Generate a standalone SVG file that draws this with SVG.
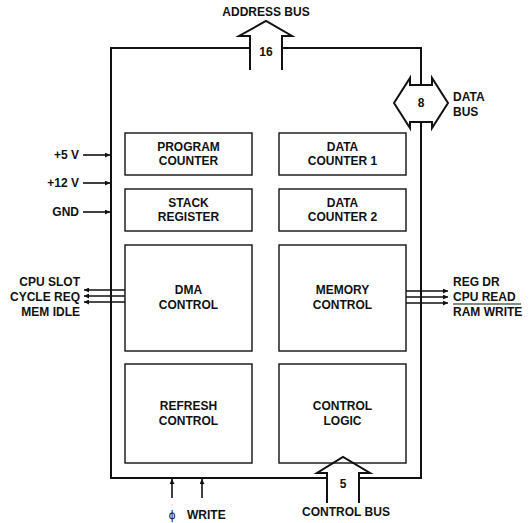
<svg xmlns="http://www.w3.org/2000/svg" width="531" height="523" viewBox="0 0 531 523">
<defs>
<style>
text{font-family:"Liberation Sans",Arial,sans-serif;font-weight:bold;font-size:12px;fill:#111}
.c{text-anchor:middle}
.r{text-anchor:end}
.box{fill:none;stroke:#111;stroke-width:1.4}
.bus{fill:none;stroke:#111;stroke-width:2;stroke-linejoin:miter}
.sig{fill:none;stroke:#111;stroke-width:1.6;marker-end:url(#ah)}
</style>
<marker id="ah" viewBox="0 0 10 10" refX="10" refY="5" markerWidth="7" markerHeight="5" markerUnits="userSpaceOnUse" orient="auto">
<path d="M0,0 L10,5 L0,10 Z" fill="#111"/>
</marker>
</defs>
<rect width="531" height="523" fill="#fff"/>

<g id="frame">
<path class="bus" d="M250,48 H111 V478 H327 M359,478 H421 V122 M421,85 V48 H282"/>
</g>

<g id="address-bus">
<path class="bus" d="M250,70 V36 H239 L266,21 L292,36 H282 V70" stroke-width="1.6"/>
<text class="c" x="266" y="16">ADDRESS BUS</text>
<text class="c" x="266" y="56">16</text>
</g>

<g id="data-bus">
<path class="bus" d="M410,85 V78 L394,103 L410,128 V122 H432 V128 L448,103 L432,78 V85 Z" stroke-width="1.6"/>
<text class="c" x="421" y="107">8</text>
<text x="453" y="101">DATA</text>
<text x="453" y="116">BUS</text>
</g>

<g id="control-bus">
<path class="bus" d="M327,503 V473 H317 L343,457 L370,473 H359 V503" stroke-width="1.6"/>
<text class="c" x="343" y="488">5</text>
<text class="c" x="346" y="516">CONTROL BUS</text>
</g>

<g id="program-counter">
<rect class="box" x="125" y="133" width="127" height="42"/>
<text class="c" x="188.5" y="151">PROGRAM</text>
<text class="c" x="188.5" y="165">COUNTER</text>
</g>
<g id="data-counter-1">
<rect class="box" x="279" y="133" width="127" height="42"/>
<text class="c" x="342.5" y="151">DATA</text>
<text class="c" x="342.5" y="165">COUNTER 1</text>
</g>
<g id="stack-register">
<rect class="box" x="125" y="189" width="127" height="42"/>
<text class="c" x="188.5" y="207">STACK</text>
<text class="c" x="188.5" y="221">REGISTER</text>
</g>
<g id="data-counter-2">
<rect class="box" x="279" y="189" width="127" height="42"/>
<text class="c" x="342.5" y="207">DATA</text>
<text class="c" x="342.5" y="221">COUNTER 2</text>
</g>
<g id="dma-control">
<rect class="box" x="125" y="245" width="127" height="106"/>
<text class="c" x="188.5" y="294">DMA</text>
<text class="c" x="188.5" y="309">CONTROL</text>
</g>
<g id="memory-control">
<rect class="box" x="279" y="245" width="127" height="106"/>
<text class="c" x="342.5" y="294">MEMORY</text>
<text class="c" x="342.5" y="309">CONTROL</text>
</g>
<g id="refresh-control">
<rect class="box" x="125" y="364" width="127" height="99"/>
<text class="c" x="188.5" y="410">REFRESH</text>
<text class="c" x="188.5" y="425">CONTROL</text>
</g>
<g id="control-logic">
<rect class="box" x="279" y="364" width="127" height="99"/>
<text class="c" x="342.5" y="410">CONTROL</text>
<text class="c" x="342.5" y="425">LOGIC</text>
</g>

<g id="connectors">
<line class="sig" x1="83" y1="155" x2="110" y2="155"/>
<line class="sig" x1="83" y1="183" x2="110" y2="183"/>
<line class="sig" x1="83" y1="212" x2="110" y2="212"/>
<line class="sig" x1="125" y1="290" x2="84" y2="290"/>
<line class="sig" x1="125" y1="296" x2="84" y2="296"/>
<line class="sig" x1="125" y1="302" x2="84" y2="302"/>
<line class="sig" x1="406" y1="291" x2="448" y2="291"/>
<line class="sig" x1="406" y1="297" x2="448" y2="297"/>
<line class="sig" x1="406" y1="303" x2="448" y2="303"/>
<line class="sig" x1="172" y1="498" x2="172" y2="479"/>
<line class="sig" x1="202" y1="498" x2="202" y2="479"/>
</g>

<g id="labels">
<text class="r" x="79" y="159">+5 V</text>
<text class="r" x="79" y="187">+12 V</text>
<text class="r" x="79" y="216">GND</text>
<text class="r" x="80" y="286">CPU SLOT</text>
<text class="r" x="80" y="301">CYCLE REQ</text>
<text class="r" x="80" y="316">MEM IDLE</text>
<text x="453" y="286">REG DR</text>
<text x="453" y="301">CPU READ</text>
<text x="453" y="316">RAM WRITE</text>
<line x1="453" y1="304" x2="521" y2="304" stroke="#111" stroke-width="1.2"/>
<text class="c" x="172" y="519" style="font-weight:normal">ϕ</text>
<text x="187" y="519">WRITE</text>
</g>
</svg>
